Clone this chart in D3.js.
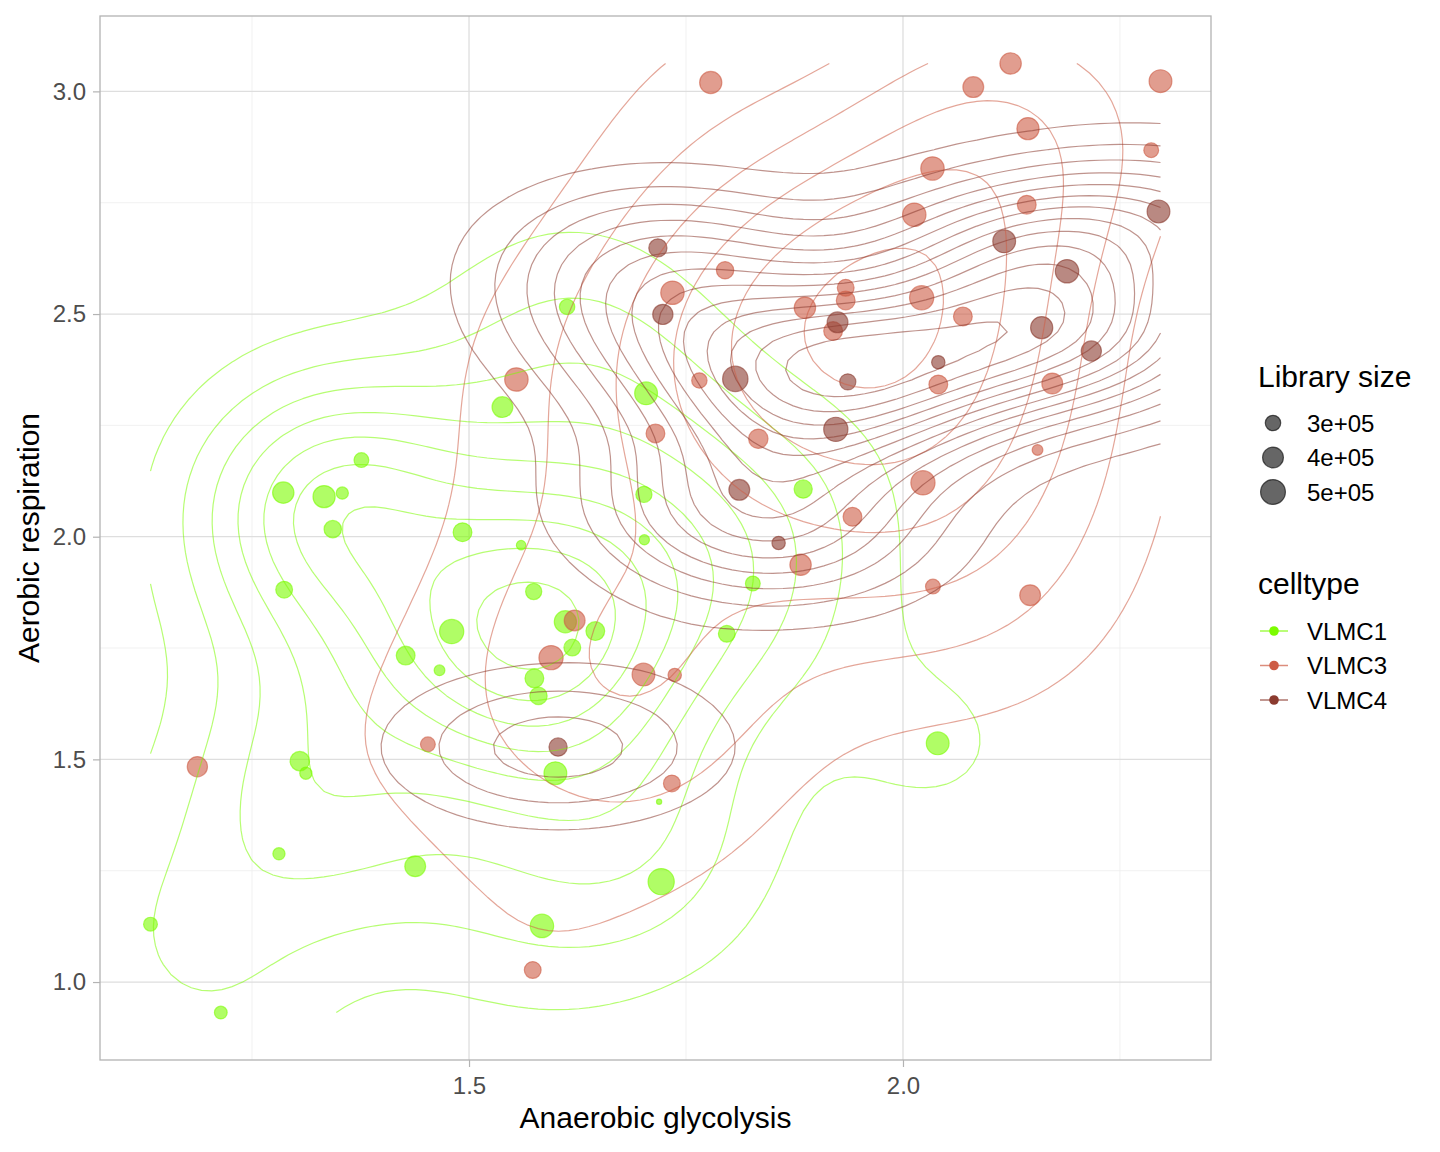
<!DOCTYPE html>
<html>
<head>
<meta charset="utf-8">
<script src="https://cdn.jsdelivr.net/npm/d3@7"></script>
<style>
body { margin: 0; background: #fff; }
text { font-family: "Liberation Sans", Arial, sans-serif; }
</style>
</head>
<body>
<div id="chart"></div>
<script>
//Data

//VLMC1
const vlmc1X = [1.133, 1.214, 1.281, 1.305, 1.312, 1.438, 1.286, 1.333, 1.354, 1.376, 1.343, 1.287,
	1.4925, 1.427, 1.466, 1.480, 1.5385, 1.613, 1.560, 1.5745, 1.611, 1.6455, 1.619, 1.5753,
	1.580, 1.5995, 1.719, 1.702, 1.7015, 1.704, 1.827, 1.797, 1.885, 2.040, 1.7214, 1.584];
const vlmc1Y = [1.130, 0.9315, 1.288, 1.496, 1.469, 1.260, 2.099, 2.090, 2.098, 2.172, 2.017, 1.881,
	2.010, 1.733, 1.700, 1.787, 2.291, 2.516, 1.981, 1.877, 1.809, 1.788, 1.751, 1.682,
	1.6425, 1.469, 1.405, 1.993, 2.095, 2.322, 1.895, 1.782, 2.107, 1.536, 1.2254, 1.126];
const vlmc1Lib = [278000, 266000, 260000, 369000, 260000, 399000, 412000, 431000, 260000, 291000, 331000, 321000,
	357000, 357000, 247000, 483000, 399000, 299000, 238000, 311000, 431000, 357000, 321000, 357000,
	331000, 446000, 225000, 243000, 311000, 446000, 291000, 321000, 346000, 446000, 540000, 462000];

//VLMC3
const vlmc3X = [1.187, 1.4526, 1.5734, 1.7337, 1.5945, 1.6217, 1.701, 1.737, 1.5546, 1.7148, 1.7344, 1.795,
	1.7654, 1.8333, 1.887, 1.934, 1.934, 1.9195, 1.882, 1.9418, 2.023, 2.155, 2.0345, 2.1465,
	2.0215, 2.069, 2.013, 2.034, 2.081, 2.124, 2.144, 2.1426, 2.2967, 2.286, 2.0407, 2.172, 1.7785];
const vlmc3Y = [1.4835, 1.5337, 1.027, 1.446, 1.7284, 1.812, 1.6904, 1.6895, 2.353, 2.232, 2.5478, 2.5984,
	2.3508, 2.220, 2.514, 2.559, 2.5306, 2.4618, 1.937, 2.0448, 2.121, 2.1948, 1.888, 1.8686,
	2.5366, 2.4947, 2.723, 2.8267, 3.0096, 3.0627, 2.9163, 2.7455, 3.023, 2.868, 2.3418, 2.344, 3.020];
const vlmc3Lib = [386000, 291000, 321000, 321000, 483000, 399000, 446000, 273000, 462000, 357000, 462000, 331000,
	299000, 369000, 412000, 321000, 357000, 357000, 412000, 357000, 483000, 247000, 291000, 399000,
	483000, 357000, 462000, 462000, 399000, 412000, 431000, 357000, 446000, 291000, 357000, 399000, 431000];

//VLMC4
const vlmc4X = [1.6026, 1.8567, 1.8114, 1.7176, 1.7233, 1.8068, 1.9246, 1.9364, 1.9226, 2.1166, 2.189, 2.2944,
	2.1598, 2.217, 2.0407];
const vlmc4Y = [1.5277, 1.9859, 2.1052, 2.6485, 2.4992, 2.3544, 2.4813, 2.3477, 2.2411, 2.6633, 2.5961, 2.7305,
	2.4694, 2.417, 2.3918];
const vlmc4Lib = [346000, 273000, 399000, 346000, 386000, 516000, 399000, 311000, 483000, 446000, 462000, 446000,
	431000, 386000, 273000];

const cellTypes = ["VLMC1", "VLMC3", "VLMC4"];
const cellColors = ["#7CFC00", "#CD5C45", "#8B3B2F"];
const xTicks = [1.5, 2.0];
const xMinor = [1.25, 1.75, 2.25];
const yTicks = [1.0, 1.5, 2.0, 2.5, 3.0];
const yMinor = [1.25, 1.75, 2.25, 2.75];
const sizeBreaks = [300000, 400000, 500000];
const sizeLabels = ["3e+05", "4e+05", "5e+05"];

//Functions

//same rule as MASS::bandwidth.nrd
let bandwidthNrd = function(v) {
	let s = d3.sort(v);
	let iqr = d3.quantileSorted(s, 0.75) - d3.quantileSorted(s, 0.25);
	return 4 * 1.06 * Math.min(d3.deviation(v), iqr / 1.34) * Math.pow(v.length, -0.2);
}

//2d gaussian kernel density on an n x n grid, like MASS::kde2d
let kde2d = function(xs, ys, xlim, ylim, n) {
	let hx = bandwidthNrd(xs) / 4;
	let hy = bandwidthNrd(ys) / 4;
	let dnorm = function(z) { return Math.exp(-0.5 * z * z) / Math.sqrt(2 * Math.PI); };
	let gx = d3.range(n).map(function(i) { return xlim[0] + i * (xlim[1] - xlim[0]) / (n - 1); });
	let gy = d3.range(n).map(function(j) { return ylim[0] + j * (ylim[1] - ylim[0]) / (n - 1); });
	let ax = gx.map(function(g) { return xs.map(function(x) { return dnorm((g - x) / hx); }); });
	let ay = gy.map(function(g) { return ys.map(function(y) { return dnorm((g - y) / hy); }); });
	let vals = new Array(n * n);
	for (let j = 0; j < n; j++) {
		for (let i = 0; i < n; i++) {
			let s = 0;
			for (let k = 0; k < xs.length; k++) s += ax[i][k] * ay[j][k];
			vals[j * n + i] = s / (xs.length * hx * hy);
		}
	}
	return vals;
}

//R's pretty()
let pretty = function(lo, hi, ndiv) {
	let h = 1.5, h5 = 0.5 + 1.5 * h;
	let cell = (hi - lo) / ndiv;
	let base = Math.pow(10, Math.floor(Math.log10(cell)));
	let unit = base;
	if (2 * base - cell < h * (cell - unit)) {
		unit = 2 * base;
		if (5 * base - cell < h5 * (cell - unit)) {
			unit = 5 * base;
			if (10 * base - cell < h * (cell - unit)) unit = 10 * base;
		}
	}
	let ns = Math.floor(lo / unit + 1e-7);
	let nu = Math.ceil(hi / unit - 1e-7);
	return d3.range(ns, nu + 1).map(function(k) { return k * unit; });
}

//Scripted code

const width = 1440, height = 1152;
const panel = { left: 100, right: 1211, top: 16, bottom: 1060 };
const gridN = 100;

let groups = [
	{ name: cellTypes[0], color: cellColors[0], xs: vlmc1X, ys: vlmc1Y, lib: vlmc1Lib },
	{ name: cellTypes[1], color: cellColors[1], xs: vlmc3X, ys: vlmc3Y, lib: vlmc3Lib },
	{ name: cellTypes[2], color: cellColors[2], xs: vlmc4X, ys: vlmc4Y, lib: vlmc4Lib }
];

let allX = vlmc1X.concat(vlmc3X, vlmc4X);
let allY = vlmc1Y.concat(vlmc3Y, vlmc4Y);
let allLib = vlmc1Lib.concat(vlmc3Lib, vlmc4Lib);

let xExt = d3.extent(allX);
let yExt = d3.extent(allY);
let xPad = (xExt[1] - xExt[0]) * 0.05;
let yPad = (yExt[1] - yExt[0]) * 0.05;

let xScale = d3.scaleLinear().domain([xExt[0] - xPad, xExt[1] + xPad]).range([panel.left, panel.right]);
let yScale = d3.scaleLinear().domain([yExt[0] - yPad, yExt[1] + yPad]).range([panel.bottom, panel.top]);

//area style size scale like ggplot's scale_size
let libExt = d3.extent(allLib);
let rScale = d3.scaleLinear().domain([0, 1]).range([3.2, 13.7]);
let radius = function(v) { return rScale(Math.sqrt((v - libExt[0]) / (libExt[1] - libExt[0]))); };

let svg = d3.select("#chart")
	.append("svg")
	.attr("width", width)
	.attr("height", height);

//grid
let grid = svg.append("g");
grid.selectAll(".xminor").data(xMinor).enter().append("line")
	.attr("x1", xScale).attr("x2", xScale)
	.attr("y1", panel.top).attr("y2", panel.bottom)
	.style("stroke", "#EDEDED").style("stroke-width", 0.8);
grid.selectAll(".yminor").data(yMinor).enter().append("line")
	.attr("y1", yScale).attr("y2", yScale)
	.attr("x1", panel.left).attr("x2", panel.right)
	.style("stroke", "#EDEDED").style("stroke-width", 0.8);
grid.selectAll(".xmajor").data(xTicks).enter().append("line")
	.attr("x1", xScale).attr("x2", xScale)
	.attr("y1", panel.top).attr("y2", panel.bottom)
	.style("stroke", "#DEDEDE").style("stroke-width", 1.3);
grid.selectAll(".ymajor").data(yTicks).enter().append("line")
	.attr("y1", yScale).attr("y2", yScale)
	.attr("x1", panel.left).attr("x2", panel.right)
	.style("stroke", "#DEDEDE").style("stroke-width", 1.3);

//points
let pts = svg.append("g");
groups.forEach(function(g) {
	pts.selectAll(null)
		.data(d3.range(g.xs.length))
		.enter()
		.append("circle")
		.attr("cx", function(i) { return xScale(g.xs[i]); })
		.attr("cy", function(i) { return yScale(g.ys[i]); })
		.attr("r", function(i) { return radius(g.lib[i]) - 0.6; })
		.style("fill", g.color)
		.style("fill-opacity", 0.6)
		.style("stroke", g.color)
		.style("stroke-opacity", 0.6)
		.style("stroke-width", 1.2);
});

//density contours, breaks shared by all groups
let densities = groups.map(function(g) { return kde2d(g.xs, g.ys, xExt, yExt, gridN); });
let zMin = d3.min(densities, function(d) { return d3.min(d); });
let zMax = d3.max(densities, function(d) { return d3.max(d); });
let breaks = pretty(zMin, zMax, 10);
console.log("breaks: " + breaks);

let stepX = (xExt[1] - xExt[0]) / (gridN - 1);
let stepY = (yExt[1] - yExt[0]) / (gridN - 1);
let onGrid = function(p) { return p[0] > 0 && p[0] < gridN && p[1] > 0 && p[1] < gridN; };
let isoLine = d3.line()
	.defined(onGrid)
	.x(function(p) { return xScale(xExt[0] + (p[0] - 0.5) * stepX); })
	.y(function(p) { return yScale(yExt[0] + (p[1] - 0.5) * stepY); });

let cont = svg.append("g");
groups.forEach(function(g, gi) {
	let bands = d3.contours().size([gridN, gridN]).thresholds(breaks)(densities[gi]);
	bands.forEach(function(band) {
		band.coordinates.forEach(function(poly) {
			poly.forEach(function(ring) {
				cont.append("path")
					.attr("d", isoLine(ring))
					.style("fill", "none")
					.style("stroke", g.color)
					.style("stroke-opacity", 0.55)
					.style("stroke-width", 1.2);
			});
		});
	});
});

//panel border
svg.append("rect")
	.attr("x", panel.left).attr("y", panel.top)
	.attr("width", panel.right - panel.left).attr("height", panel.bottom - panel.top)
	.style("fill", "none").style("stroke", "#B3B3B3").style("stroke-width", 1.3);

//axes
let xAxis = svg.append("g")
	.attr("transform", "translate(0," + panel.bottom + ")")
	.call(d3.axisBottom(xScale).tickValues(xTicks).tickFormat(d3.format(".1f")).tickSize(7).tickPadding(10));
let yAxis = svg.append("g")
	.attr("transform", "translate(" + panel.left + ",0)")
	.call(d3.axisLeft(yScale).tickValues(yTicks).tickFormat(d3.format(".1f")).tickSize(7).tickPadding(7));
[xAxis, yAxis].forEach(function(a) {
	a.select(".domain").remove();
	a.selectAll(".tick line").style("stroke", "#B3B3B3").style("stroke-width", 1.2);
	a.selectAll(".tick text")
		.style("fill", "#4D4D4D")
		.style("font-size", "24px")
		.style("font-family", "'Liberation Sans', Arial, sans-serif");
});

svg.append("text")
	.attr("x", (panel.left + panel.right) / 2).attr("y", 1128)
	.attr("text-anchor", "middle")
	.style("font-size", "30px")
	.text("Anaerobic glycolysis");
svg.append("text")
	.attr("transform", "translate(39," + (panel.top + panel.bottom) / 2 + ") rotate(-90)")
	.attr("text-anchor", "middle")
	.style("font-size", "30px")
	.text("Aerobic respiration");

//legends
let leg = svg.append("g");
leg.append("text").attr("x", 1258).attr("y", 387).style("font-size", "30px").text("Library size");
let sizeKeys = [423, 457.5, 492];
sizeBreaks.forEach(function(b, i) {
	leg.append("circle")
		.attr("cx", 1273).attr("cy", sizeKeys[i])
		.attr("r", radius(b) - 0.6)
		.style("fill", "#000").style("fill-opacity", 0.6)
		.style("stroke", "#000").style("stroke-opacity", 0.6).style("stroke-width", 1.2);
	leg.append("text").attr("x", 1307).attr("y", sizeKeys[i] + 8.5)
		.style("font-size", "24px").text(sizeLabels[i]);
});

leg.append("text").attr("x", 1258).attr("y", 594).style("font-size", "30px").text("celltype");
let typeKeys = [631, 665.5, 700];
cellTypes.forEach(function(t, i) {
	leg.append("line")
		.attr("x1", 1260).attr("x2", 1288)
		.attr("y1", typeKeys[i]).attr("y2", typeKeys[i])
		.style("stroke", cellColors[i]).style("stroke-opacity", 0.7).style("stroke-width", 1.5);
	leg.append("circle")
		.attr("cx", 1274).attr("cy", typeKeys[i]).attr("r", 4.8)
		.style("fill", cellColors[i]);
	leg.append("text").attr("x", 1307).attr("y", typeKeys[i] + 8.5)
		.style("font-size", "24px").text(t);
});
</script>
</body>
</html>
